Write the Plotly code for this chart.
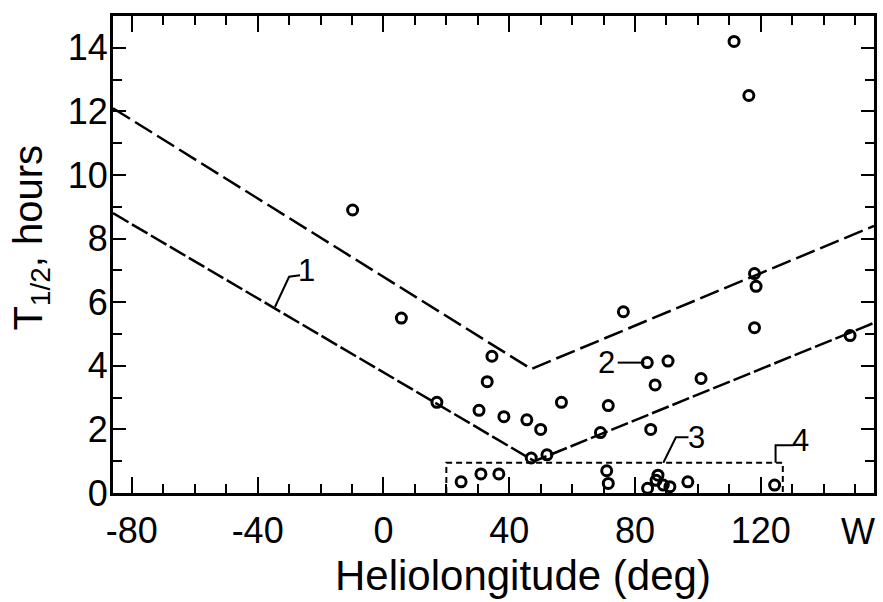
import plotly.graph_objects as go

# ---- data ----
x_pts = [111.5, 116.2, -9.8, 5.7, 17.0, 34.5, 33.0, 30.4, 38.3, 45.6, 50.0, 56.6,
         47.0, 52.0, 24.7, 31.0, 36.7, 76.3, 83.9, 90.5, 86.4, 101.0, 71.5, 69.0,
         85.0, 71.0, 71.5, 84.0, 86.7, 89.0, 91.1, 87.3, 96.8, 118.0, 148.4, 124.4,
         118.0, 118.5]
y_pts = [14.2, 12.5, 8.9, 5.5, 2.85, 4.3, 3.5, 2.6, 2.4, 2.3, 2.0, 2.85,
         1.1, 1.2, 0.35, 0.6, 0.6, 5.7, 4.1, 4.15, 3.4, 3.6, 2.75, 1.9,
         2.0, 0.7, 0.3, 0.15, 0.4, 0.25, 0.2, 0.56, 0.35, 5.2, 4.95, 0.25,
         6.9, 6.5]

upper_x = [-86, 47, 156]
upper_y = [12.1, 3.9, 8.4]
lower_x = [-86, 48, 156]
lower_y = [8.8, 1.0, 5.35]

box_x = [20, 20, 127, 127]
box_y = [0, 0.95, 0.95, 0]

xtick_vals = [-80, -40, 0, 40, 80, 120]
xtick_text = ["-80", "-40", "0", "40", "80", "120"]
ytick_vals = [0, 2, 4, 6, 8, 10, 12, 14]

FONT = "Liberation Sans"

fig = go.Figure()
fig.add_trace(go.Scatter(x=upper_x, y=upper_y, mode="lines",
                         line=dict(color="black", width=2.5, dash="20px,6px"),
                         showlegend=False, cliponaxis=False))
fig.add_trace(go.Scatter(x=lower_x, y=lower_y, mode="lines",
                         line=dict(color="black", width=2.5, dash="18px,4px"),
                         showlegend=False, cliponaxis=False))
fig.add_trace(go.Scatter(x=box_x, y=box_y, mode="lines",
                         line=dict(color="black", width=2, dash="6px,4px"),
                         showlegend=False))
fig.add_trace(go.Scatter(x=x_pts, y=y_pts, mode="markers",
                         marker=dict(symbol="circle-open", size=10, color="black",
                                     line=dict(width=3, color="black")),
                         showlegend=False, cliponaxis=False))

# leader lines of the numbered labels
leaders = [
    ([-34.5, -30, -26.5], [5.85, 6.8, 6.85]),
    ([74.5, 83.0], [4.1, 4.1]),
    ([89, 93, 97], [0.95, 1.75, 1.75]),
    ([124.7, 124.7, 130.5], [0.95, 1.5, 1.5]),
]
for lx, ly in leaders:
    fig.add_trace(go.Scatter(x=lx, y=ly, mode="lines",
                             line=dict(color="black", width=2),
                             showlegend=False))

labels = [("1", -24.5, 7.0), ("2", 71.0, 4.1), ("3", 99.5, 1.75), ("4", 132.5, 1.65)]
for t, lx, ly in labels:
    fig.add_annotation(x=lx, y=ly, text=t, showarrow=False,
                       font=dict(family=FONT, size=31, color="black"))

fig.add_annotation(x=151, y=0, yshift=-16, text="W", showarrow=False,
                   yanchor="top", font=dict(family=FONT, size=36, color="black"))

# axis titles as annotations (placed like the reference)
fig.add_annotation(xref="paper", yref="paper", x=-0.108, y=0.535,
                   text="T<sub>1/2</sub>, hours", textangle=-90, showarrow=False,
                   xanchor="center", yanchor="middle",
                   font=dict(family=FONT, size=40, color="black"))
fig.add_annotation(xref="paper", yref="paper", x=0.539, y=-0.172,
                   text="Heliolongitude (deg)", showarrow=False,
                   xanchor="center", yanchor="middle",
                   font=dict(family=FONT, size=42, color="black"))

axis_common = dict(showgrid=False, zeroline=False, showline=True, linewidth=3,
                   linecolor="black", mirror="ticks", ticks="inside",
                   tickcolor="black", tickwidth=2,
                   tickfont=dict(family=FONT, size=36, color="black"))

fig.update_xaxes(range=[-86, 156], tickvals=xtick_vals, ticktext=xtick_text,
                 ticklen=16, ticklabelstandoff=4,
                 minor=dict(dtick=10, tick0=0, ticks="inside", ticklen=9,
                            tickwidth=2, tickcolor="black"),
                 **axis_common)
fig.update_yaxes(range=[0, 15], tickvals=ytick_vals, ticklen=13,
                 ticklabelstandoff=-5,
                 minor=dict(dtick=1, tick0=0, ticks="inside", ticklen=9,
                            tickwidth=2, tickcolor="black"),
                 **axis_common)

fig.update_layout(width=883, height=602, plot_bgcolor="white", paper_bgcolor="white",
                  margin=dict(l=113, r=6, t=16, b=109))

fig.write_html("out.html")
